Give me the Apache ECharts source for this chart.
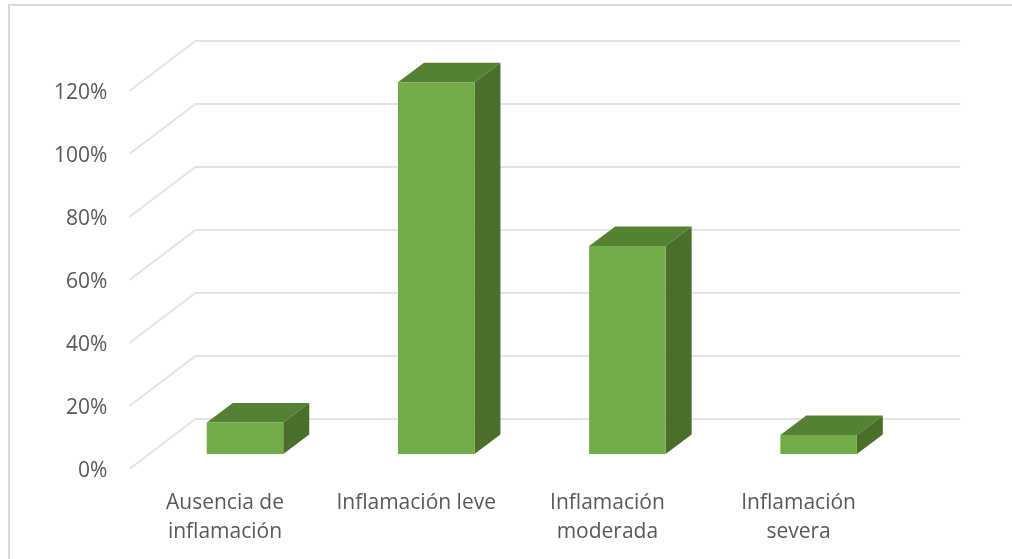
<!DOCTYPE html>
<html>
<head>
<meta charset="utf-8">
<style>
  html, body { margin: 0; padding: 0; background: #fff; }
  #chart { width: 1012px; height: 559px; }
</style>
<script src="https://cdn.jsdelivr.net/npm/echarts@6/dist/echarts.min.js"></script>
</head>
<body>
<div id="chart"></div>
<script>
const categories = ["Ausencia de\ninflamación", "Inflamación leve", "Inflamación\nmoderada", "Inflamación\nsevera"];
const values = [10, 118, 66, 6];
const ticks = [0, 20, 40, 60, 80, 100, 120];

// fake 3d: the axes sit on the front plane, bars and back wall are shifted from it
const barShift = [20, -15];
const barDepth = [26, -19.5];
const wallShift = [66, -50];

const chart = echarts.init(document.getElementById("chart"));

function renderWall(params, api) {
  const box = params.coordSys;
  const y = api.coord([0, api.value(1)])[1];
  return {
    type: "polyline",
    shape: {
      points: [
        [box.x, y],
        [box.x + wallShift[0], y + wallShift[1]],
        [box.x + box.width + wallShift[0], y + wallShift[1]],
      ],
    },
    style: { fill: null, stroke: "#e4e4e4", lineWidth: 2 },
  };
}

function renderBar(params, api) {
  const top = api.coord([api.value(0), api.value(1)]);
  const base = api.coord([api.value(0), 0]);
  const half = api.size([1, 0])[0] * 0.2;
  const x0 = top[0] - half + barShift[0];
  const x1 = top[0] + half + barShift[0];
  const y0 = top[1] + barShift[1];
  const y1 = base[1] + barShift[1];
  const dx = barDepth[0];
  const dy = barDepth[1];
  return {
    type: "group",
    children: [
      {
        type: "polygon",
        shape: { points: [[x0, y0], [x1, y0], [x1 + dx, y0 + dy], [x0 + dx, y0 + dy]] },
        style: { fill: "#558135" },
      },
      {
        type: "polygon",
        shape: { points: [[x1, y0], [x1 + dx, y0 + dy], [x1 + dx, y1 + dy], [x1, y1]] },
        style: { fill: "#4b6e2a" },
      },
      {
        type: "rect",
        shape: { x: x0, y: y0, width: x1 - x0, height: y1 - y0 },
        style: { fill: "#70ad47" },
      },
    ],
  };
}

chart.setOption({
  animation: false,
  backgroundColor: "#fff",
  textStyle: { fontFamily: "Open Sans" },
  graphic: [
    {
      // the frame only shows on the top and left, the rest is cropped away
      type: "polyline",
      shape: { points: [[1012, 5], [9, 5], [9, 559]] },
      style: { fill: null, stroke: "#d9d9d9", lineWidth: 2 },
      silent: true,
    },
  ],
  grid: { left: 129.4, top: 91, width: 764.8, height: 378 },
  xAxis: {
    type: "category",
    data: categories,
    axisLine: { show: false },
    axisTick: { show: false },
    axisLabel: {
      interval: 0,
      color: "#595959",
      fontSize: 21,
      lineHeight: 29,
      margin: 20,
    },
  },
  yAxis: {
    type: "value",
    min: 0,
    max: 120,
    interval: 20,
    axisLine: { show: false },
    axisTick: { show: false },
    splitLine: { show: false },
    axisLabel: {
      margin: 22,
      formatter: "{t|{value}%}",
      rich: {
        t: { color: "#595959", fontSize: 21, fontFamily: "Open Sans", padding: [5, 0, 0, 0] },
      },
    },
  },
  series: [
    {
      type: "custom",
      coordinateSystem: "cartesian2d",
      renderItem: renderWall,
      data: ticks.map((t) => [0, t]),
      clip: false,
      silent: true,
      z: 1,
    },
    {
      type: "custom",
      coordinateSystem: "cartesian2d",
      renderItem: renderBar,
      data: values.map((v, i) => [i, v]),
      clip: false,
      z: 2,
    },
  ],
});
</script>
</body>
</html>
